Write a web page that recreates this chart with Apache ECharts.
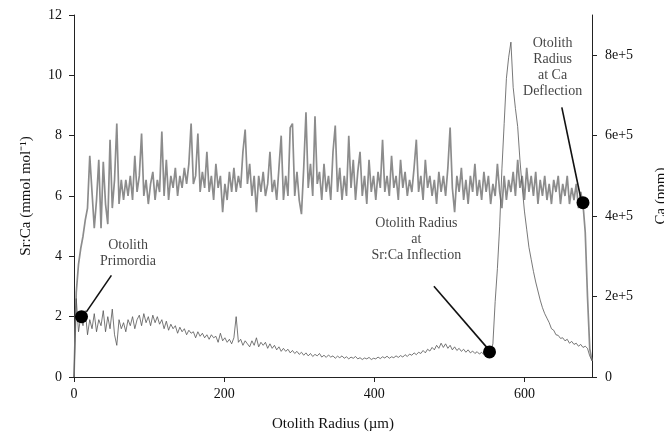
<!DOCTYPE html>
<html>
<head>
<meta charset="utf-8">
<script src="https://cdn.jsdelivr.net/npm/echarts@6/dist/echarts.min.js"></script>
<style>
  html, body { margin: 0; padding: 0; background: #fff; }
  #main { width: 664px; height: 438px; }
</style>
</head>
<body>
<div id="main"></div>
<script>
// sampling grid along the otolith radius (um)
const radiusStart = 0;
const radiusStep = 3;

// Ca, in units of 1e5 ppm (right axis), one value per grid step
const caE5 = [
  0, 2.1, 2.8, 3.2, 3.5, 3.9, 4.2, 5.5, 4.6, 3.7,
  4.4, 5.4, 3.7, 5.35, 4.3, 3.8, 5.9, 4.2, 4.9, 6.3,
  4.3, 4.9, 4.4, 4.9, 4.5, 5.0, 4.4, 5.5, 4.6, 5.0,
  6.05, 4.5, 4.9, 4.3, 4.8, 5.1, 4.4, 4.9, 4.6, 6.1,
  4.5, 5.4, 4.4, 5.0, 4.7, 5.2, 4.5, 5.0, 4.7, 5.2,
  4.8, 5.3, 6.3, 4.8, 5.0, 6.05, 4.6, 5.1, 4.7, 5.6,
  4.6, 5.0, 4.4, 5.3, 4.7, 5.0, 4.1, 4.8, 4.4, 5.1,
  4.6, 5.2, 4.6, 5.0, 4.7, 5.6, 6.15, 4.8, 5.3, 4.5,
  5.0, 4.1, 5.0, 4.6, 5.1, 4.5, 4.8, 5.6, 4.6, 4.9,
  4.4, 5.2, 6.0, 4.4, 5.0, 4.5, 6.2, 6.3, 4.5, 5.1,
  4.4, 4.05, 5.2, 6.58, 4.7, 5.3, 4.5, 6.48, 4.8, 5.1,
  4.4, 5.3, 4.6, 5.0, 4.4, 5.6, 6.25, 4.6, 5.2, 4.4,
  5.0, 4.5, 6.0, 4.7, 5.4, 4.4, 5.1, 5.6, 4.5, 5.0,
  4.3, 5.4, 4.6, 5.0, 4.4, 5.1, 4.7, 5.9, 4.6, 5.0,
  4.5, 5.5, 4.7, 5.0, 4.4, 5.4, 4.7, 5.1, 4.5, 4.9,
  4.6, 5.2, 5.9, 4.6, 5.0, 4.4, 5.4, 4.7, 5.0, 4.5,
  4.9, 4.3, 5.1, 4.6, 5.0, 4.5, 5.2, 6.2, 4.7, 4.1,
  5.0, 4.6, 5.2, 4.4, 4.9, 4.3, 5.0, 4.6, 5.3, 4.5,
  4.9, 4.4, 5.1, 4.6, 5.0, 4.3, 4.8, 4.5, 5.3, 4.6,
  4.2, 5.0, 4.4, 4.9, 4.6, 5.1, 4.5, 5.4, 4.7, 5.0,
  4.4, 5.2, 4.6, 5.0, 4.5, 5.1, 4.3, 4.9, 4.5, 5.0,
  4.4, 4.8, 4.3, 4.9, 4.6, 5.0, 4.3, 4.8, 4.5, 5.0,
  4.3, 4.7, 4.4, 4.8, 4.2, 4.6, 4.3, 3.6, 2.0, 0.7,
  0.4
];

// Sr:Ca (mmol mol-1), left axis
const srCa = [
  0, 2.6, 1.5, 2.0, 1.7, 2.2, 1.4, 1.9, 1.6, 2.1,
  1.5, 1.9, 1.7, 2.2, 1.5, 2.0, 1.6, 2.25, 1.4, 1.05,
  1.9, 1.6, 1.8, 1.5, 1.9, 1.7, 2.0, 1.6, 1.9, 2.05,
  1.7, 2.1, 1.8, 2.0, 1.7, 2.05, 1.8, 2.0, 1.75, 1.9,
  1.6, 1.85, 1.55, 1.75, 1.6, 1.7, 1.45, 1.65, 1.5, 1.6,
  1.4, 1.55, 1.45, 1.5, 1.3, 1.5, 1.35, 1.45, 1.3, 1.4,
  1.25, 1.4, 1.3, 1.35, 1.15, 1.45, 1.2, 1.3, 1.15, 1.25,
  1.1, 1.3, 2.0, 1.15, 1.25, 1.05, 1.2, 1.1, 1.0, 1.2,
  1.05, 1.3, 1.0, 1.15, 1.05, 1.15, 0.95, 1.1, 0.95, 1.05,
  0.9, 1.0, 0.85, 0.95, 0.85, 0.92, 0.8, 0.88, 0.78, 0.85,
  0.75, 0.82, 0.72, 0.8, 0.7, 0.78, 0.68, 0.75, 0.7, 0.78,
  0.66, 0.72, 0.65, 0.73, 0.66, 0.7, 0.62, 0.69, 0.64, 0.7,
  0.62, 0.67, 0.6, 0.66, 0.62, 0.68, 0.6, 0.64, 0.58, 0.63,
  0.6, 0.65, 0.58, 0.62, 0.6, 0.66, 0.61, 0.67, 0.63, 0.69,
  0.62, 0.67, 0.64, 0.7, 0.65, 0.71, 0.66, 0.74, 0.68, 0.76,
  0.72, 0.8, 0.74, 0.82, 0.78, 0.88, 0.8, 0.92, 0.86, 0.98,
  0.9, 1.05, 0.95, 1.12, 0.98, 1.1, 0.95, 1.05, 0.9, 1.0,
  0.88, 0.95, 0.85, 0.92, 0.82, 0.9, 0.8, 0.86, 0.78, 0.84,
  0.76, 0.82, 0.74, 0.8, 0.78, 0.83, 1.1, 2.5, 3.6, 5.0,
  6.9, 8.4, 9.9, 10.6, 11.1, 9.6, 8.9, 8.3, 7.2, 6.3,
  5.5, 4.9, 4.3, 3.9, 3.5, 3.15, 2.85, 2.55, 2.3, 2.1,
  1.95, 1.8, 1.6, 1.55, 1.4, 1.38, 1.28, 1.3, 1.2, 1.25,
  1.12, 1.18, 1.08, 1.12, 1.02, 1.08, 0.98, 1.02, 0.95, 0.7,
  0.55
];

// highlighted points [radius, Sr:Ca-axis value]
const markerPoints = [[10, 2.0], [553.5, 0.83], [678, 5.78]];

// annotations: text, text anchor, leader line start/end (left-axis coords)
const annoTexts = ['Otolith\nPrimordia', 'Otolith Radius\nat\nSr:Ca Inflection', 'Otolith\nRadius\nat Ca\nDeflection'];
const annoAnchors = [[72, 4.1], [456, 4.57], [637.5, 10.27]];
const annoLines = [
  [[49.8, 3.37], [16.5, 2.16]],
  [[479.4, 3.01], [551.3, 0.94]],
  [[649.8, 8.94], [675.6, 5.86]]
];

const xTicks = [0, 200, 400, 600];
const srCaTicks = [0, 2, 4, 6, 8, 10, 12];
const caTicks = [0, 200000, 400000, 600000, 800000];

const radius = srCa.map((_, i) => radiusStart + i * radiusStep);
const srCaData = srCa.map((v, i) => [radius[i], v]);
const caData = caE5.map((v, i) => [radius[i], v * 1e5]);

const font = 'Liberation Serif, Times New Roman, serif';
const axisColor = '#222';
const textColor = '#111';

const chart = echarts.init(document.getElementById('main'));

const option = {
  backgroundColor: '#fff',
  animation: false,
  textStyle: { fontFamily: font },
  grid: { left: 74, right: 72, top: 15, bottom: 61, outerBoundsMode: 'none', containLabel: false },
  xAxis: {
    type: 'value',
    min: 0,
    max: 690,
    interval: 200,
    name: 'Otolith Radius (\u00b5m)',
    nameLocation: 'middle',
    nameGap: 40,
    nameTextStyle: { fontFamily: font, fontSize: 15, color: textColor },
    axisLine: { onZero: false, lineStyle: { color: axisColor } },
    axisTick: { length: 5, lineStyle: { color: axisColor } },
    axisLabel: {
      margin: 10, fontFamily: font, fontSize: 14, color: textColor,
      showMaxLabel: false,
      formatter: v => xTicks.includes(v) ? String(v) : ''
    },
    splitLine: { show: false }
  },
  yAxis: [
    {
      type: 'value',
      min: 0,
      max: 12,
      interval: 2,
      name: 'Sr:Ca (mmol mol\u207b\u00b9)',
      nameLocation: 'middle',
      nameRotate: 90,
      nameGap: 40,
      nameTextStyle: { fontFamily: font, fontSize: 15, color: textColor },
      axisLine: { show: true, lineStyle: { color: axisColor } },
      axisTick: { show: true, length: 5, lineStyle: { color: axisColor } },
      axisLabel: {
        margin: 12, fontFamily: font, fontSize: 14, color: textColor,
        formatter: v => srCaTicks.includes(v) ? String(v) : ''
      },
      splitLine: { show: false }
    },
    {
      type: 'value',
      position: 'right',
      min: 0,
      max: 900000,
      interval: 200000,
      name: 'Ca (ppm)',
      nameLocation: 'middle',
      nameRotate: 90,
      nameGap: 62,
      nameTextStyle: { fontFamily: font, fontSize: 15, color: textColor },
      axisLine: { show: true, lineStyle: { color: axisColor } },
      axisTick: { show: true, length: 5, lineStyle: { color: axisColor } },
      axisLabel: {
        margin: 13, fontFamily: font, fontSize: 14, color: textColor,
        showMaxLabel: false,
        formatter: v => caTicks.includes(v) ? (v === 0 ? '0' : (v / 1e5) + 'e+5') : ''
      },
      splitLine: { show: false }
    }
  ],
  series: [
    {
      name: 'Ca',
      type: 'line',
      yAxisIndex: 1,
      data: caData,
      showSymbol: false,
      lineStyle: { color: '#8c8c8c', width: 1.7 },
      z: 2
    },
    {
      name: 'Sr:Ca',
      type: 'line',
      yAxisIndex: 0,
      data: srCaData,
      showSymbol: false,
      lineStyle: { color: '#555', width: 0.8 },
      z: 3
    },
    ...annoLines.map(seg => ({
      type: 'line',
      yAxisIndex: 0,
      data: seg,
      showSymbol: false,
      silent: true,
      lineStyle: { color: '#111', width: 1.6 },
      z: 4
    })),
    {
      type: 'scatter',
      yAxisIndex: 0,
      data: markerPoints,
      symbol: 'circle',
      symbolSize: 13,
      itemStyle: { color: '#000', opacity: 1 },
      z: 5
    },
    {
      type: 'scatter',
      yAxisIndex: 0,
      data: annoAnchors.map((p, i) => ({ value: p, name: annoTexts[i] })),
      symbolSize: 0,
      silent: true,
      label: {
        show: true,
        position: 'inside',
        formatter: p => p.name,
        fontFamily: font,
        fontSize: 14,
        lineHeight: 16,
        align: 'center',
        color: textColor
      },
      z: 6
    }
  ]
};

chart.setOption(option);
</script>
</body>
</html>
